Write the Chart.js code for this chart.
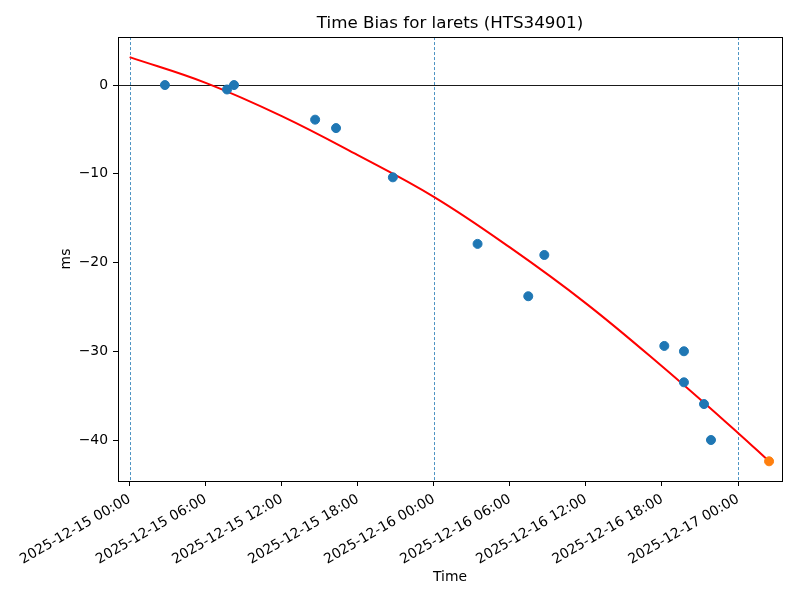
<!DOCTYPE html>
<html lang="en">
<head>
<meta charset="UTF-8">
<title>Time Bias for larets (HTS34901)</title>
<style>
  *{margin:0;padding:0}
  body{background:#fff;width:800px;height:600px;overflow:hidden}
  #wrap{position:relative;width:800px;height:600px}
</style>
</head>
<body>
<div id="wrap"><canvas id="chart" width="800" height="600"></canvas></div>

<script src="https://cdn.jsdelivr.net/npm/chart.js@4.4.0"></script>
<script>
/* measured time bias (ms) */
const obsTimes = ["2025-12-15 02:47","2025-12-15 07:41","2025-12-15 08:14","2025-12-15 14:38",
                  "2025-12-15 16:17","2025-12-15 20:46","2025-12-16 03:27","2025-12-16 07:27",
                  "2025-12-16 08:43","2025-12-16 18:11","2025-12-16 19:44","2025-12-16 19:44",
                  "2025-12-16 21:19","2025-12-16 21:52"];
const obsBias  = [0.0,-0.5,0.0,-3.9,-4.85,-10.4,-17.9,-23.8,-19.15,-29.4,-30.0,-33.5,-35.95,-40.0];

/* latest point (orange) */
const lastTimes = ["2025-12-17 02:27"];
const lastBias  = [-42.4];

/* fitted trend (red) */
const fitTimes = ["2025-12-15 00:00","2025-12-15 06:00","2025-12-15 12:00","2025-12-15 18:00",
                  "2025-12-16 00:00","2025-12-16 06:00","2025-12-16 12:00","2025-12-16 18:00",
                  "2025-12-17 00:00","2025-12-17 02:27"];
const fitBias  = [3.15,0.25,-3.5,-7.9,-12.6,-18.3,-24.6,-31.7,-39.2,-42.4];

/* axes */
const xTicks = ["2025-12-15 00:00","2025-12-15 06:00","2025-12-15 12:00","2025-12-15 18:00",
                "2025-12-16 00:00","2025-12-16 06:00","2025-12-16 12:00","2025-12-16 18:00",
                "2025-12-17 00:00"];
const dayLines = ["2025-12-15 00:00","2025-12-16 00:00","2025-12-17 00:00"];
const yTicks = [-40,-30,-20,-10,0];
const xRange = [-0.92, 51.47];   // hours from first tick
const yRange = [-44.62, 5.41];

const t0 = Date.parse(xTicks[0].replace(' ','T')+':00Z');
const hrs = s => (Date.parse(s.replace(' ','T')+':00Z') - t0) / 3600000;
const pts = (ts, vs) => ts.map((t,i)=>({x:hrs(t), y:vs[i]}));

const FONT = "'DejaVu Sans', sans-serif";
Chart.defaults.font.family = FONT;
Chart.defaults.color = '#000';

const refLines = {
  id:'refLines',
  beforeDatasetsDraw(chart){
    const {ctx, chartArea:a, scales:{x,y}} = chart;
    ctx.save();
    ctx.beginPath(); ctx.rect(a.left,a.top,a.right-a.left,a.bottom-a.top); ctx.clip();
    ctx.strokeStyle='#1f77b4'; ctx.lineWidth=0.8; ctx.setLineDash([3,2]);
    dayLines.forEach(d=>{
      const px=Math.round(x.getPixelForValue(hrs(d)))+0.5;
      ctx.beginPath(); ctx.moveTo(px,a.top); ctx.lineTo(px,a.bottom); ctx.stroke();
    });
    ctx.setLineDash([]);
    ctx.strokeStyle='#000'; ctx.lineWidth=0.9;
    const py=Math.round(y.getPixelForValue(0))+0.5;
    ctx.beginPath(); ctx.moveTo(a.left,py); ctx.lineTo(a.right,py); ctx.stroke();
    ctx.restore();
  },
  afterDatasetsDraw(chart){
    const {ctx, chartArea:a} = chart;
    ctx.save();
    ctx.strokeStyle='#000'; ctx.lineWidth=1;
    ctx.strokeRect(Math.round(a.left)+0.5,Math.round(a.top)+0.5,Math.round(a.right-a.left),Math.round(a.bottom-a.top));
    ctx.restore();
  }
};

new Chart(document.getElementById('chart'),{
  type:'scatter',
  data:{datasets:[
    {label:'bias',data:pts(obsTimes,obsBias),backgroundColor:'#1f77b4',borderColor:'#1f77b4',
     pointRadius:4.5,pointHoverRadius:4.5,order:1},
    {label:'latest',data:pts(lastTimes,lastBias),backgroundColor:'#ff7f0e',borderColor:'#ff7f0e',
     pointRadius:4.5,pointHoverRadius:4.5,order:2},
    {label:'fit',type:'line',data:pts(fitTimes,fitBias),borderColor:'#ff0000',borderWidth:2,
     pointRadius:0,fill:false,tension:0.4,order:3}
  ]},
  options:{
    responsive:false,animation:false,
    layout:{padding:{left:0,right:18,top:0,bottom:0}},
    plugins:{
      legend:{display:false},tooltip:{enabled:false},
      title:{display:true,text:'Time Bias for larets (HTS34901)',fullSize:false,
             font:{size:16.7,weight:'normal',family:FONT},color:'#000',padding:{top:14,bottom:3}}
    },
    scales:{
      x:{type:'linear',min:xRange[0],max:xRange[1],
         afterFit(s){s.height=119;},
         afterBuildTicks(s){s.ticks=xTicks.map(t=>({value:hrs(t)}));},
         grid:{drawOnChartArea:false,drawTicks:true,tickLength:5,tickColor:'#000',tickWidth:1},
         border:{display:false},
         ticks:{autoSkip:false,maxRotation:30,minRotation:30,padding:5,font:{size:13.9},
                callback:(v,i)=>xTicks[i]},
         title:{display:true,text:'Time',font:{size:13.9},padding:{top:0,bottom:14.7}}},
      y:{min:yRange[0],max:yRange[1],
         afterFit(s){s.width=118;},
         afterBuildTicks(s){s.ticks=yTicks.map(v=>({value:v}));},
         grid:{drawOnChartArea:false,drawTicks:true,tickLength:5,tickColor:'#000',tickWidth:1},
         border:{display:false},
         ticks:{padding:5,font:{size:13.9},callback:v=>String(v).replace('-','\u2212')},
         title:{display:true,text:'ms',font:{size:13.9},padding:{top:57.7,bottom:0}}}
    }
  },
  plugins:[refLines]
});
</script>
</body>
</html>
